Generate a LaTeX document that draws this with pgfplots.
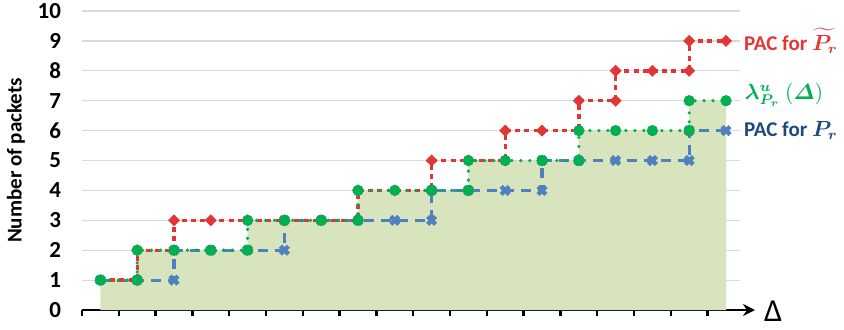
\documentclass[border=0pt]{standalone}
\usepackage{pgfplots}
\pgfplotsset{compat=1.18}
\usepackage{amsmath}
\usepackage{bm}
\usepackage{fontspec}
\setmainfont{Carlito}
\usetikzlibrary{arrows.meta}

\definecolor{pacred}{RGB}{226,54,54}
\definecolor{lamgreen}{RGB}{0,176,80}
\definecolor{pacblue}{RGB}{79,129,189}
\definecolor{labblue}{RGB}{31,73,125}
\definecolor{areafill}{RGB}{215,228,189}

\begin{document}
\begin{tikzpicture}
\useasboundingbox (-41pt,-9.5pt) rectangle (381pt,155pt);
\begin{axis}[
  scale only axis,
  width=329pt, height=149.5pt,
  xmin=-0.5, xmax=17.38,
  ymin=0, ymax=10,
  clip=false,
  axis x line=bottom,
  axis y line=left,
  x axis line style={line width=1.4pt, -{Stealth[length=6pt,width=6pt]}, shorten >=-7.5pt},
  y axis line style={draw=none},
  xtick={-0.5,0.5,...,16.5},
  xticklabels={},
  ytick={0,1,...,10},
  tick align=outside,
  xtick style={line width=1.2pt, black},
  major tick length=3pt,
  ytick style={draw=none},
  ymajorgrids,
  grid style={line width=0.6pt, black!15},
  /pgf/number format/assume math mode=true,
  yticklabel style={font=\fontsize{11.5}{12}\selectfont\bfseries, xshift=-4pt},
]
% area under the lambda step curve
\addplot[draw=none, fill=areafill] coordinates {
  (0,1)(1,1)(1,2)(2,2)(3,2)(4,2)(4,3)(5,3)(6,3)(7,3)(7,4)(8,4)(9,4)(10,4)
  (10,5)(11,5)(12,5)(13,5)(13,6)(14,6)(15,6)(16,6)(16,7)(17,7)
} \closedcycle;
% PAC for P_r
\addplot[pacblue, line width=1.6pt, dash pattern=on 5pt off 3.5pt,
  mark=x, mark size=2.8pt, mark options={solid, line width=2.2pt}] coordinates {
  (0,1)(1,1)(2,1)(2,2)(3,2)(4,2)(5,2)(5,3)(6,3)(7,3)(8,3)(9,3)(9,4)(10,4)
  (11,4)(12,4)(12,5)(13,5)(14,5)(15,5)(16,5)(16,6)(17,6)
};
% PAC for tilde P_r
\addplot[pacred, line width=1.7pt, dash pattern=on 2.5pt off 2.2pt,
  mark=square*, mark size=1.9pt, mark options={solid, rotate=45, line width=0.4pt}] coordinates {
  (0,1)(1,1)(1,2)(2,2)(2,3)(3,3)(4,3)(5,3)(6,3)(7,3)(7,4)(8,4)(9,4)(9,5)
  (10,5)(11,5)(11,6)(12,6)(13,6)(13,7)(14,7)(14,8)(15,8)(16,8)(16,9)(17,9)
};
% lambda
\addplot[lamgreen, line width=1.8pt, line cap=round, dash pattern=on 0pt off 4.5pt,
  mark=*, mark size=2.6pt, mark options={solid, line width=0.4pt}] coordinates {
  (0,1)(1,1)(1,2)(2,2)(3,2)(4,2)(4,3)(5,3)(6,3)(7,3)(7,4)(8,4)(9,4)(10,4)
  (10,5)(11,5)(12,5)(13,5)(13,6)(14,6)(15,6)(16,6)(16,7)(17,7)
};
% series labels
\node[anchor=west, text=pacred, font=\fontsize{10.5}{11}\selectfont\bfseries, inner sep=0pt]
  at (axis cs:17.48,9) {PAC for $\widetilde{\bm{P_r}}$};
\node[anchor=west, text=lamgreen, font=\fontsize{10.5}{11}\selectfont\bfseries, inner sep=0pt]
  at (axis cs:17.5,7.2) {$\bm{\lambda^{u}_{P_r}}\ (\bm{\varDelta})$};
\node[anchor=west, text=labblue, font=\fontsize{10.5}{11}\selectfont\bfseries, inner sep=0pt]
  at (axis cs:17.48,6) {PAC for $\bm{P_r}$};
% axis titles
\node[rotate=90, font=\fontsize{10.5}{11}\selectfont\bfseries]
  at ([xshift=-33pt]rel axis cs:0,0.5) {Number of packets};
\node[font=\fontsize{16}{16}\selectfont] at (axis cs:18.28,-0.05) {Δ};
\end{axis}
\end{tikzpicture}
\end{document}
